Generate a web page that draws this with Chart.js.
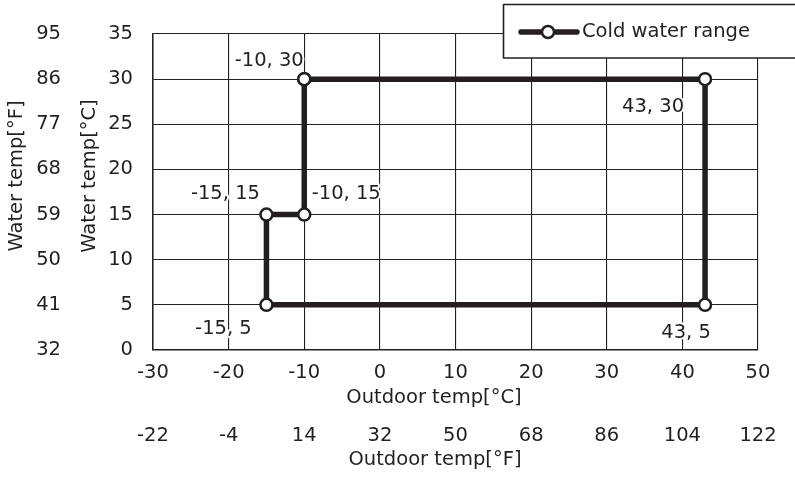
<!DOCTYPE html>
<html><head><meta charset="utf-8">
<script src="https://cdn.jsdelivr.net/npm/chart.js@4/dist/chart.umd.min.js"></script>
<style>html,body{margin:0;padding:0;background:#fff;}canvas{display:block;}</style>
</head><body>
<canvas id="c" width="795" height="478"></canvas>
<script>
// ---- data ----
const seriesName = 'Cold water range';
const outdoorC = [-10, 43, 43, -15, -15, -10, -10];
const waterC   = [30, 30, 5, 5, 15, 15, 30];
const xTicksC = [-30, -20, -10, 0, 10, 20, 30, 40, 50];
const xTicksF = [-22, -4, 14, 32, 50, 68, 86, 104, 122];
const yTicksC = [0, 5, 10, 15, 20, 25, 30, 35];
const yTicksF = [32, 41, 50, 59, 68, 77, 86, 95];
const xTitleC = 'Outdoor temp[°C]';
const xTitleF = 'Outdoor temp[°F]';
const yTitleC = 'Water temp[°C]';
const yTitleF = 'Water temp[°F]';
const labelledIdx = [0, 1, 3, 4, 5, 2]; // points that carry a "x, y" label

// ---- styles ----
const INK = '#231f20';
const FONT = 'DejaVu Sans';
const FS = 19.5;
const font = {family: FONT, size: FS};
// label offsets (px) from point centre, keyed by point index
const labelOffsets = {0: [-35, -18], 1: [-52, 28], 3: [-43, 24], 4: [-41, -21], 5: [42, -21], 2: [-19, 28]};

const pointData = outdoorC.map((x, i) => ({x, y: waterC[i]}));

const overlay = {
  id: 'overlay',
  afterDraw(chart) {
    const ctx = chart.ctx;
    const xs = chart.scales.x, ys = chart.scales.y;
    const ds = chart.data.datasets[0];
    ctx.save();
    ctx.font = FS + 'px ' + FONT;
    ctx.textAlign = 'center';
    ctx.textBaseline = 'middle';
    ctx.lineJoin = 'round';
    // point labels with white halo
    labelledIdx.forEach(i => {
      const p = ds.data[i];
      const off = labelOffsets[i];
      const px = xs.getPixelForValue(p.x) + off[0];
      const py = ys.getPixelForValue(p.y) + off[1];
      const t = p.x + ', ' + p.y;
      ctx.strokeStyle = '#fff'; ctx.lineWidth = 4;
      ctx.strokeText(t, px, py);
      ctx.fillStyle = INK;
      ctx.fillText(t, px, py);
    });
    // axis titles
    ctx.fillStyle = INK;
    ctx.fillText(xTitleC, 434, 398);
    ctx.fillText(xTitleF, 435, 460);
    ctx.save(); ctx.translate(90, 176); ctx.rotate(-Math.PI / 2); ctx.fillText(yTitleC, 0, 0); ctx.restore();
    ctx.save(); ctx.translate(17, 176); ctx.rotate(-Math.PI / 2); ctx.fillText(yTitleF, 0, 0); ctx.restore();
    // legend box
    ctx.fillStyle = '#fff';
    ctx.fillRect(503, 4, 300, 54);
    ctx.strokeStyle = INK; ctx.lineWidth = 1.6;
    ctx.strokeRect(503.5, 4.5, 300, 53.5);
    ctx.strokeStyle = ds.borderColor; ctx.lineWidth = ds.borderWidth; ctx.lineCap = 'round';
    ctx.beginPath(); ctx.moveTo(521, 32); ctx.lineTo(577, 32); ctx.stroke();
    ctx.beginPath(); ctx.arc(548, 32, ds.pointRadius, 0, Math.PI * 2);
    ctx.fillStyle = ds.pointBackgroundColor; ctx.fill();
    ctx.lineWidth = ds.pointBorderWidth; ctx.strokeStyle = ds.pointBorderColor; ctx.stroke();
    ctx.fillStyle = INK; ctx.textAlign = 'left';
    ctx.fillText(seriesName, 582, 32);
    ctx.restore();
  }
};

new Chart(document.getElementById('c'), {
  type: 'scatter',
  data: {
    datasets: [{
      label: seriesName,
      data: pointData,
      showLine: true,
      borderColor: INK,
      borderWidth: 5.5,
      pointRadius: 6,
      pointBackgroundColor: '#ffffff',
      pointBorderColor: INK,
      pointBorderWidth: 2.5,
      borderJoinStyle: 'miter',
      clip: false
    }]
  },
  options: {
    responsive: false,
    animation: false,
    devicePixelRatio: 1,
    layout: {padding: {top: 34, right: 37, left: 0, bottom: 0}},
    plugins: {legend: {display: false}, tooltip: {enabled: false}},
    scales: {
      x: {
        type: 'linear', position: 'bottom', weight: 0, min: -30, max: 50,
        afterBuildTicks: s => { s.ticks = xTicksC.map(v => ({value: v})); },
        ticks: {color: INK, font, padding: 11, maxRotation: 0, autoSkip: false, callback: (v, i) => xTicksC[i]},
        grid: {color: INK, lineWidth: 1.1, drawTicks: false},
        border: {color: INK, width: 1.5},
        afterFit: s => { s.height = 65; }
      },
      xF: {
        type: 'linear', position: 'bottom', weight: 1, min: -30, max: 50,
        afterBuildTicks: s => { s.ticks = xTicksC.map(v => ({value: v})); },
        ticks: {color: INK, font, padding: 9, maxRotation: 0, autoSkip: false, callback: (v, i) => xTicksF[i]},
        grid: {display: false, drawTicks: false},
        border: {display: false},
        afterFit: s => { s.height = 63; }
      },
      y: {
        type: 'linear', position: 'left', weight: 0, min: 0, max: 35,
        afterBuildTicks: s => { s.ticks = yTicksC.map(v => ({value: v})); },
        ticks: {color: INK, font, padding: 20, autoSkip: false, callback: (v, i) => yTicksC[i]},
        grid: {color: INK, lineWidth: 1.1, drawTicks: false},
        border: {color: INK, width: 1.5},
        afterFit: s => { s.width = 81; }
      },
      yF: {
        type: 'linear', position: 'left', weight: 1, min: 0, max: 35,
        afterBuildTicks: s => { s.ticks = yTicksC.map(v => ({value: v})); },
        ticks: {color: INK, font, padding: 11, autoSkip: false, callback: (v, i) => yTicksF[i]},
        grid: {display: false, drawTicks: false},
        border: {display: false},
        afterFit: s => { s.width = 72; }
      }
    }
  },
  plugins: [overlay]
});
</script>
</body></html>
